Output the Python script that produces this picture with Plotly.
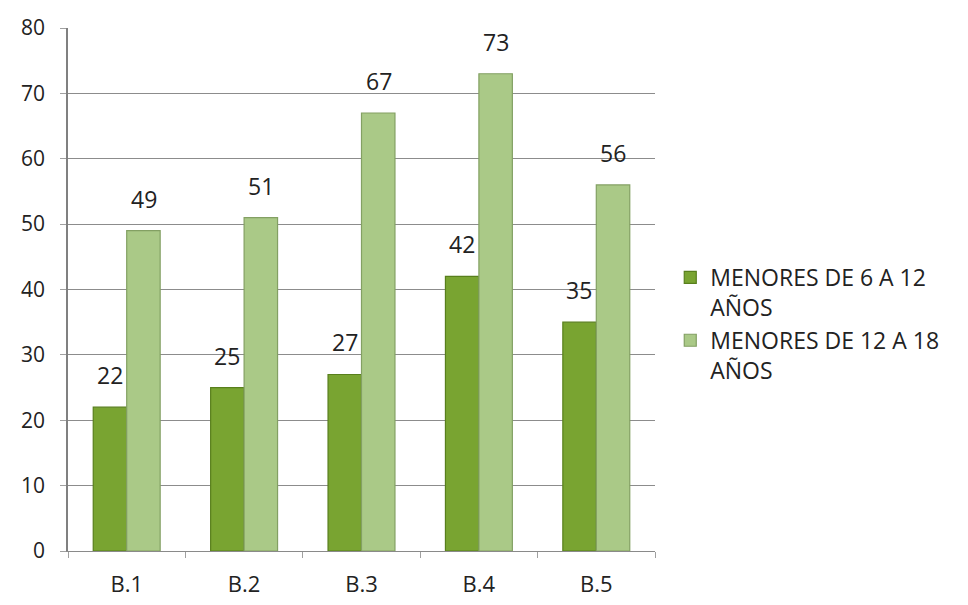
import plotly.graph_objects as go

categories = ["B.1", "B.2", "B.3", "B.4", "B.5"]
series1_name = "MENORES DE 6 A 12<br>AÑOS"
series1 = [22, 25, 27, 42, 35]
series2_name = "MENORES DE 12 A 18<br>AÑOS"
series2 = [49, 51, 67, 73, 56]
yticks = [0, 10, 20, 30, 40, 50, 60, 70, 80]

FONT = "Open Sans, Liberation Sans, sans-serif"
TXT = "#222222"

fig = go.Figure()
fig.add_trace(go.Bar(
    x=categories, y=series1, name=series1_name,
    marker=dict(color="#79a431", line=dict(color="#587f1c", width=1.2)),
))
fig.add_trace(go.Bar(
    x=categories, y=series2, name=series2_name,
    marker=dict(color="#aac987", line=dict(color="#83a063", width=1.2)),
))

# value labels placed above each bar (derived from the data arrays)
bar_offset_px = 17
for series, shift in ((series1, -bar_offset_px), (series2, bar_offset_px)):
    for c, v in zip(categories, series):
        fig.add_annotation(
            x=c, y=v, xref="x", yref="y", text=str(v), showarrow=False,
            xshift=shift, yshift=14, yanchor="bottom",
            font=dict(size=23, color=TXT, family=FONT),
        )

fig.update_layout(
    width=968, height=605,
    margin=dict(l=60, r=321, t=20, b=62, autoexpand=False),
    paper_bgcolor="white", plot_bgcolor="white",
    barmode="group", bargap=0.43, bargroupgap=0,
    font=dict(family=FONT, size=22, color=TXT),
    showlegend=True,
    legend=dict(x=1.026, y=0.434, xanchor="left", yanchor="middle",
                font=dict(size=23, color=TXT), valign="top",
                itemwidth=30),
)
fig.update_xaxes(
    showline=True, linecolor="#8a8a8a", linewidth=1,
    ticks="outside", ticklen=6, tickcolor="#a0a0a0",
    tickson="boundaries", showgrid=False,
    ticklabelstandoff=14,
    tickfont=dict(size=22, color=TXT),
)
fig.update_yaxes(
    range=[0, 80], tickvals=yticks, ticktext=[str(v) for v in yticks],
    showgrid=True, gridcolor="#8c8c8c", gridwidth=1,
    showline=True, linecolor="#808080", linewidth=1.5,
    ticks="outside", ticklen=6, tickcolor="#a0a0a0",
    ticklabelstandoff=11,
    tickfont=dict(size=21, color=TXT),
    zeroline=False,
)

fig.write_html("out.html")
